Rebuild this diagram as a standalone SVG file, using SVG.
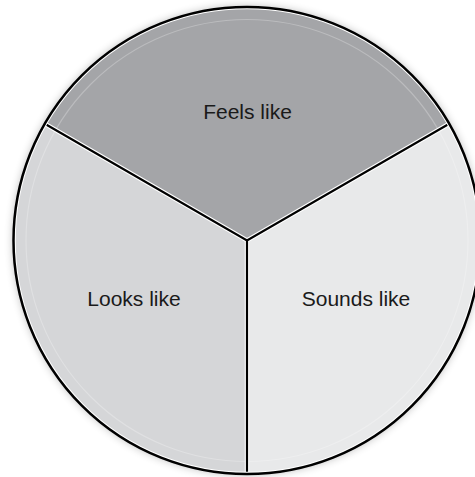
<svg xmlns="http://www.w3.org/2000/svg" width="475" height="477" viewBox="0 0 475 477">
  <defs>
    <filter id="shadow" x="-20%" y="-20%" width="140%" height="140%">
      <feGaussianBlur in="SourceAlpha" stdDeviation="5"/>
      <feComponentTransfer><feFuncA type="linear" slope="0.3"/></feComponentTransfer>
      <feMerge><feMergeNode/><feMergeNode in="SourceGraphic"/></feMerge>
    </filter>
    <clipPath id="disc"><circle cx="247" cy="240.5" r="232"/></clipPath>
  </defs>
  <style>
    .label { font-family: "Liberation Sans", Arial, sans-serif; font-size: 21px; fill: #1a1a1a; text-anchor: middle; }
    .sep-w { stroke: #ffffff; stroke-width: 4.5; fill: none; }
    .sep-b { stroke: #000000; stroke-width: 2.2; fill: none; }
  </style>
  <rect width="475" height="477" fill="#ffffff"/>
  <circle cx="247" cy="240.5" r="233.5" fill="#ffffff" filter="url(#shadow)"/>
  <g clip-path="url(#disc)">
    <g id="feels">
      <path d="M247 240.5 L44.8 123.75 A233.5 233.5 0 0 1 449.2 123.75 Z" fill="#a4a5a8"/>
    </g>
    <g id="looks">
      <path d="M247 240.5 L247 474 A233.5 233.5 0 0 1 44.8 123.75 Z" fill="#d5d6d8"/>
    </g>
    <g id="sounds">
      <path d="M247 240.5 L449.2 123.75 A233.5 233.5 0 0 1 247 474 Z" fill="#e8e9ea"/>
    </g>
    <circle cx="247" cy="240.5" r="221" fill="none" stroke="#ffffff" stroke-opacity="0.25" stroke-width="1.2"/>
  </g>
  <g id="connectors">
    <path class="sep-w" d="M44.8 123.75 L247 240.5 L449.2 123.75 M247 240.5 L247 474"/>
    <path class="sep-b" d="M44.8 123.75 L247 240.5 L449.2 123.75 M247 240.5 L247 474"/>
  </g>
  <circle cx="247" cy="240.5" r="232" fill="none" stroke="#ffffff" stroke-width="1.5"/>
  <circle cx="247" cy="240.5" r="233.5" fill="none" stroke="#000000" stroke-width="2.5"/>
  <text class="label" x="247.5" y="119">Feels like</text>
  <text class="label" x="134" y="306">Looks like</text>
  <text class="label" x="356" y="306">Sounds like</text>
</svg>
